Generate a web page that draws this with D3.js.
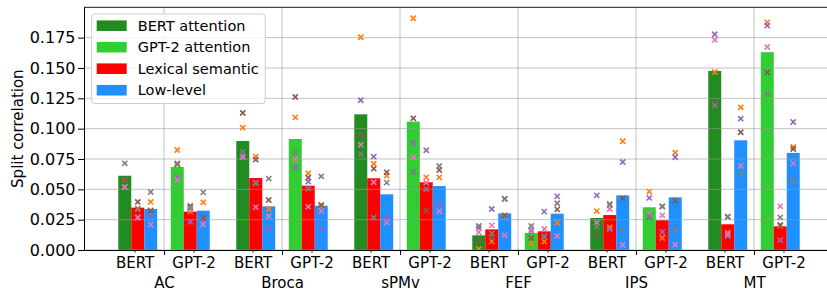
<!DOCTYPE html>
<html>
<head>
<meta charset="utf-8">
<script src="https://cdn.jsdelivr.net/npm/d3@7"></script>
<style>
  body { margin: 0; background: #fff; }
  svg text { font-family: "DejaVu Sans", sans-serif; }
  .tick text { fill: #000; }
</style>
</head>
<body>
<div id="chart_div"></div>
<script>
// regions and models on the x axis
var regions = ["AC", "Broca", "sPMv", "FEF", "IPS", "MT"];
var models = ["BERT", "GPT-2"];
var yTicks = [0, 0.025, 0.05, 0.075, 0.1, 0.125, 0.15, 0.175];

// bar heights, one per region
var bertAttention = [0.0612, 0.0898, 0.1118, 0.0121, 0.0264, 0.1475];
var bertLexical   = [0.0349, 0.0593, 0.0591, 0.0170, 0.0288, 0.0212];
var bertLowLevel  = [0.0338, 0.0360, 0.0459, 0.0302, 0.0450, 0.0904];
var gpt2Attention = [0.0684, 0.0915, 0.1058, 0.0140, 0.0352, 0.1630];
var gpt2Lexical   = [0.0316, 0.0530, 0.0558, 0.0154, 0.0245, 0.0195];
var gpt2LowLevel  = [0.0324, 0.0365, 0.0527, 0.0299, 0.0434, 0.0800];

// per subject points, per region: [bertAtt, bertLex, bertLow, gptAtt, gptLex, gptLow]
var subjOrange = [
  [0.0580, 0.0340, 0.0396, 0.0824, 0.0316, 0.0393],
  [0.1008, 0.0769, 0.0338, 0.1093, 0.0632, 0.0360],
  [0.1753, 0.0711, 0.0613, 0.1910, 0.0599, 0.0599],
  [0.0008, 0.0071, 0.0280, 0.0055, 0.0069, 0.0225],
  [0.0321, 0.0187, 0.0896, 0.0481, 0.0099, 0.0802],
  [0.1467, 0.0143, 0.1176, 0.1876, 0.0200, 0.0849]];
var subjPurple = [
  [0.0520, 0.0270, 0.0286, 0.0600, 0.0233, 0.0250],
  [0.0780, 0.0555, 0.0181, 0.0679, 0.0563, 0.0170],
  [0.1234, 0.0769, 0.0264, 0.0882, 0.0822, 0.0376],
  [0.0180, 0.0338, 0.0420, 0.0157, 0.0316, 0.0442],
  [0.0450, 0.0170, 0.0725, 0.0429, 0.0148, 0.0764],
  [0.1778, 0.0115, 0.1082, 0.1849, 0.0082, 0.1055]];
var subjBrown = [
  [0.0582, 0.0396, 0.0326, 0.0705, 0.0363, 0.0266],
  [0.1129, 0.0745, 0.0412, 0.1261, 0.0596, 0.0371],
  [0.0948, 0.0670, 0.0640, 0.1085, 0.0324, 0.0659],
  [0.0077, 0.0102, 0.0285, 0.0099, 0.0120, 0.0335],
  [0.0121, 0.0378, 0.0426, 0.0272, 0.0360, 0.0404],
  [0.1209, 0.0275, 0.0970, 0.1464, 0.0206, 0.0832]];
var subjPink = [
  [0.0519, 0.0266, 0.0208, 0.0580, 0.0340, 0.0212],
  [0.0764, 0.0354, 0.0278, 0.0745, 0.0357, 0.0321],
  [0.0868, 0.0558, 0.0228, 0.0764, 0.0555, 0.0319],
  [0.0146, 0.0203, 0.0121, 0.0170, 0.0173, 0.0115],
  [0.0225, 0.0338, 0.0041, 0.0302, 0.0286, 0.0044],
  [0.1731, 0.0130, 0.0692, 0.1673, 0.0360, 0.0714]];
var subjGray = [
  [0.0714, 0.0338, 0.0478, 0.0714, 0.0350, 0.0475],
  [0.0808, 0.0550, 0.0588, 0.0800, 0.0505, 0.0607],
  [0.0791, 0.0266, 0.0555, 0.0645, 0.0500, 0.0692],
  [0.0198, 0.0137, 0.0423, 0.0198, 0.0107, 0.0385],
  [0.0192, 0.0370, 0.0170, 0.0278, 0.0357, 0.0165],
  [0.1190, 0.0272, 0.0626, 0.1288, 0.0269, 0.0569]];

var legendLabels = ["BERT attention", "GPT-2 attention", "Lexical semantic", "Low-level"];
var legendColors = ["#228b22", "#32cd32", "#ff0000", "#1e90ff"];

// build the bar table from the arrays above
var barSeries = [
  {values: bertAttention, offset: -0.3325, color: "#228b22"},
  {values: bertLexical,   offset: -0.2225, color: "#ff0000"},
  {values: bertLowLevel,  offset: -0.1125, color: "#1e90ff"},
  {values: gpt2Attention, offset:  0.1125, color: "#32cd32"},
  {values: gpt2Lexical,   offset:  0.2225, color: "#ff0000"},
  {values: gpt2LowLevel,  offset:  0.3325, color: "#1e90ff"}
];
var subjects = [
  {values: subjOrange, color: "#ff7f0e"},
  {values: subjPurple, color: "#9467bd"},
  {values: subjBrown,  color: "#8c564b"},
  {values: subjPink,   color: "#e377c2"},
  {values: subjGray,   color: "#7f7f7f"}
];
var barWidth = 0.11;

var totalW = 827, totalH = 293;
var margin = {top: 7.3, left: 84, bottom: 43};

var x = d3.scaleLinear().domain([-0.678, 5.678]).range([margin.left, 834]);
var y = d3.scaleLinear().domain([0, 0.2]).range([totalH - margin.bottom, margin.top]);

var svg = d3.select("#chart_div").append("svg")
  .attr("width", totalW)
  .attr("height", totalH);

svg.append("defs").append("clipPath").attr("id", "plotclip")
  .append("rect")
  .attr("x", x.range()[0]).attr("y", y.range()[1])
  .attr("width", x.range()[1] - x.range()[0])
  .attr("height", y.range()[0] - y.range()[1]);

var plot = svg.append("g").attr("clip-path", "url(#plotclip)");

// bars
barSeries.forEach(function(s) {
  plot.selectAll(null)
    .data(s.values)
    .enter().append("rect")
    .attr("x", function(d, i) { return x(i + s.offset - barWidth / 2); })
    .attr("width", x(barWidth) - x(0))
    .attr("y", function(d) { return y(d); })
    .attr("height", function(d) { return y(0) - y(d); })
    .attr("fill", s.color);
});

// grid on top of bars (like the original)
plot.selectAll(".hgrid")
  .data(yTicks.concat([0.2]))
  .enter().append("line")
  .attr("class", "hgrid")
  .attr("x1", x.range()[0]).attr("x2", x.range()[1])
  .attr("y1", function(d) { return y(d); })
  .attr("y2", function(d) { return y(d); })
  .style("stroke", "#999").style("stroke-opacity", 0.6).style("stroke-width", 1);

plot.selectAll(".vgrid")
  .data(regions)
  .enter().append("line")
  .attr("class", "vgrid")
  .attr("x1", function(d, i) { return x(i); })
  .attr("x2", function(d, i) { return x(i); })
  .attr("y1", y.range()[0]).attr("y2", y.range()[1])
  .style("stroke", "#999").style("stroke-opacity", 0.6).style("stroke-width", 1);

// subject markers (x shape)
var xs = 2.6;
subjects.forEach(function(subj) {
  var pts = [];
  subj.values.forEach(function(row, r) {
    row.forEach(function(v, k) {
      pts.push({px: x(r + barSeries[k].offset), py: y(v)});
    });
  });
  plot.selectAll(null)
    .data(pts)
    .enter().append("path")
    .attr("d", function(d) {
      return "M" + (d.px - xs) + "," + (d.py - xs) + "L" + (d.px + xs) + "," + (d.py + xs) +
             "M" + (d.px - xs) + "," + (d.py + xs) + "L" + (d.px + xs) + "," + (d.py - xs);
    })
    .style("stroke", subj.color)
    .style("stroke-width", 1.6)
    .style("fill", "none");
});

// spines
svg.append("line")
  .attr("x1", x.range()[0]).attr("x2", x.range()[1])
  .attr("y1", y.range()[1]).attr("y2", y.range()[1])
  .style("stroke", "#222").style("stroke-width", 1);

// y axis
var yAxis = d3.axisLeft(y)
  .tickValues(yTicks)
  .tickFormat(d3.format(".3f"))
  .tickSize(6)
  .tickPadding(2.5);
var gy = svg.append("g")
  .attr("transform", "translate(" + margin.left + ",0)")
  .call(yAxis);
gy.select(".domain").attr("d", "M0.5," + y.range()[1] + "V" + y.range()[0]).style("stroke", "#000");
gy.selectAll("text").style("font-size", "16px");

// minor x ticks: model names
var minorVals = [];
var minorNames = [];
regions.forEach(function(r, i) {
  minorVals.push(i - 0.25); minorNames.push(models[0]);
  minorVals.push(i + 0.25); minorNames.push(models[1]);
});
var xMinor = d3.axisBottom(x)
  .tickValues(minorVals)
  .tickFormat(function(d, i) { return minorNames[i]; })
  .tickSize(2.5)
  .tickPadding(5);
var gxm = svg.append("g")
  .attr("transform", "translate(0," + y.range()[0] + ")")
  .call(xMinor);
gxm.select(".domain").remove();
gxm.selectAll("text").style("font-size", "15px");

// major x ticks: region names
var xMajor = d3.axisBottom(x)
  .tickValues(d3.range(regions.length))
  .tickFormat(function(d) { return regions[d]; })
  .tickSize(5)
  .tickPadding(22);
var gx = svg.append("g")
  .attr("transform", "translate(0," + y.range()[0] + ")")
  .call(xMajor);
gx.select(".domain").attr("d", "M" + x.range()[0] + ",0.5H" + x.range()[1]).style("stroke", "#000");
gx.selectAll("text").style("font-size", "15px");

// y label
svg.append("text")
  .attr("transform", "translate(18," + ((y.range()[0] + y.range()[1]) / 2) + ") rotate(-90)")
  .attr("text-anchor", "middle")
  .attr("dy", "0.35em")
  .style("font-size", "15px")
  .text("Split correlation");

// legend
var leg = svg.append("g").attr("transform", "translate(91.7,14)");
leg.append("rect")
  .attr("width", 173.5).attr("height", 89.5)
  .attr("rx", 3)
  .style("fill", "#fff").style("fill-opacity", 0.8)
  .style("stroke", "#ccc");
var items = leg.selectAll(".legitem")
  .data(legendLabels)
  .enter().append("g")
  .attr("class", "legitem")
  .attr("transform", function(d, i) { return "translate(0," + (11.7 + i * 21.5) + ")"; });
items.append("rect")
  .attr("x", 5).attr("y", -5.3)
  .attr("width", 30).attr("height", 10.6)
  .attr("fill", function(d, i) { return legendColors[i]; });
items.append("text")
  .attr("x", 46)
  .attr("dy", "0.35em")
  .style("font-size", "14.5px")
  .text(function(d) { return d; });
</script>
</body>
</html>
